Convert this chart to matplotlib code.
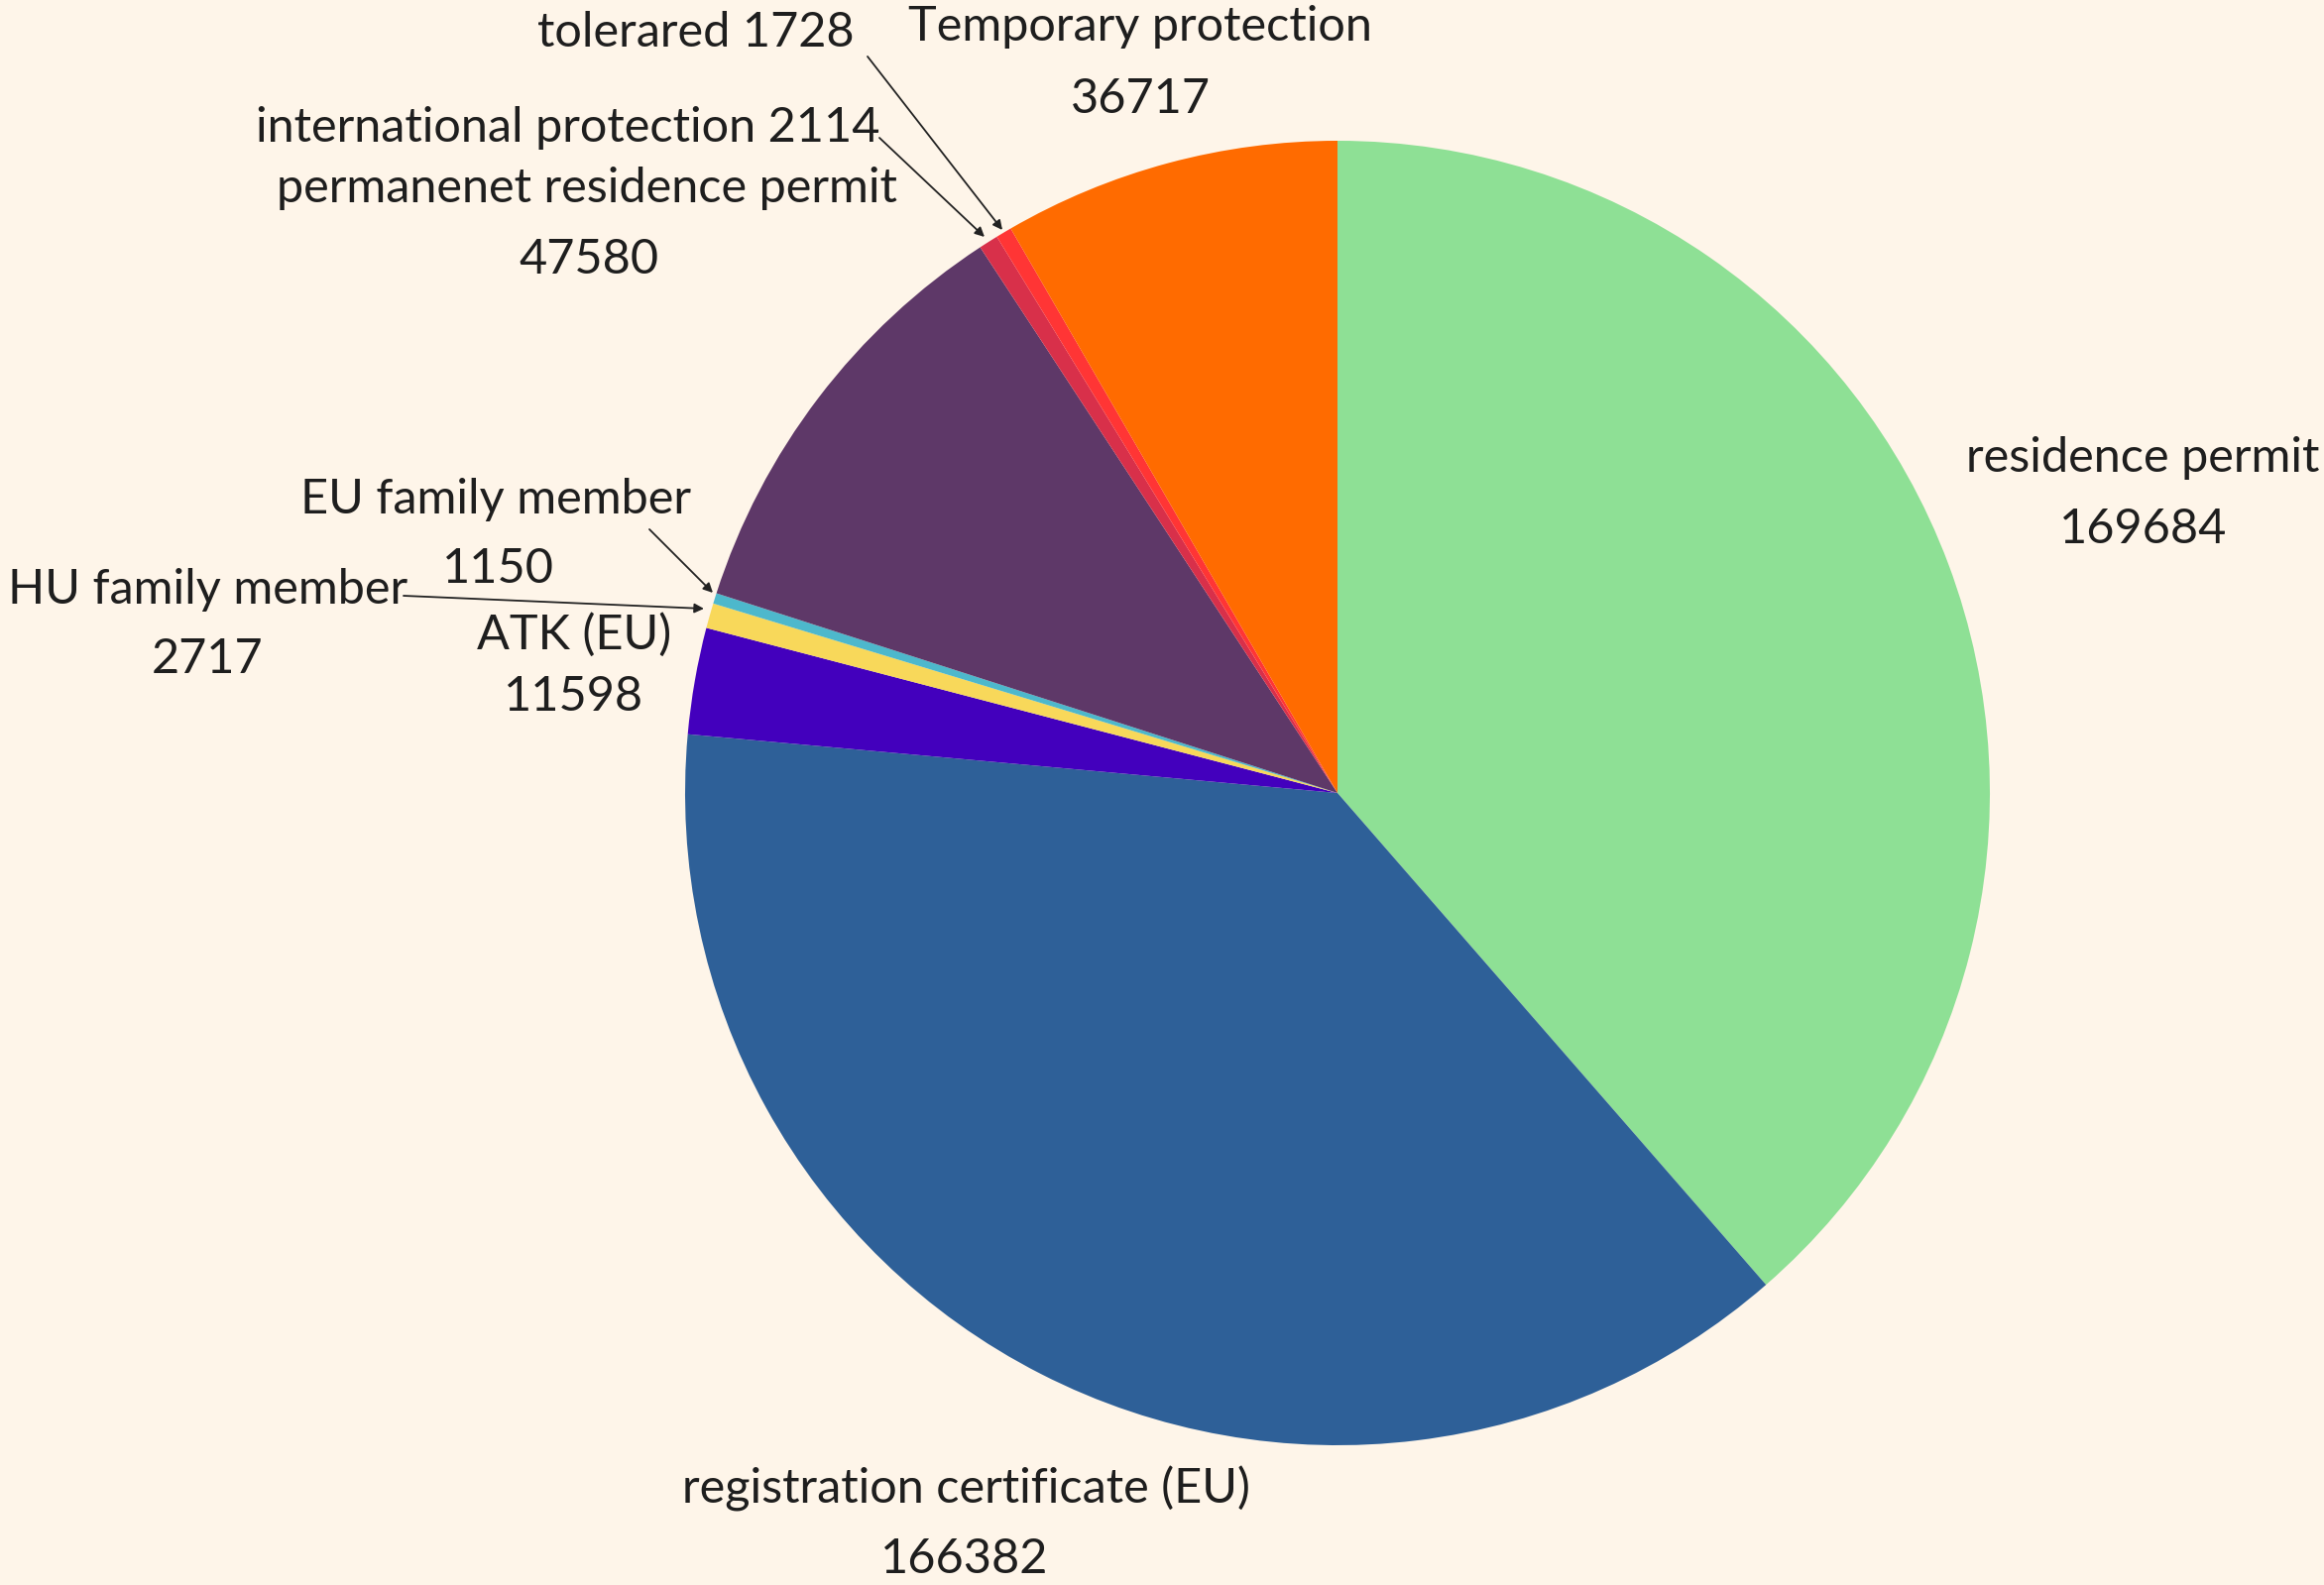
import matplotlib
matplotlib.use("Agg")
from matplotlib import pyplot as plt

# data
labels = ["residence permit", "registration certificate (EU)", "ATK (EU)",
          "HU family member", "EU family member", "permanenet residence permit",
          "international protection", "tolerared", "Temporary protection"]
values = [169684, 166382, 11598, 2717, 1150, 47580, 2114, 1728, 36717]
colors = ["#8EE095", "#2E6098", "#4300BD", "#F8D85A", "#4DB8CC",
          "#5E3868", "#D8304A", "#FF3535", "#FF6B00"]

W, H = 2344, 1599
bg = "#FEF5E9"
plt.rcParams["font.family"] = ["Lato", "DejaVu Sans"]

fig = plt.figure(figsize=(W / 100, H / 100), dpi=100, facecolor=bg)
ax = fig.add_axes([0, 0, 1, 1])

ax.pie(values, colors=colors, startangle=90, counterclock=False,
       center=(1349, H - 800), radius=658, frame=True,
       wedgeprops=dict(linewidth=0))
ax.set_xlim(0, W)
ax.set_ylim(0, H)
ax.set_aspect("equal")
ax.axis("off")

fs = 35
tc = "#1e1e1e"


def txt(x, y, s, ha="center"):
    ax.text(x, H - y, s, ha=ha, va="center", fontsize=fs, color=tc)


def arrow(x0, y0, x1, y1):
    ax.annotate("", xy=(x1, H - y1), xytext=(x0, H - y0),
                arrowprops=dict(arrowstyle="-|>", color="#222222", lw=1.3,
                                mutation_scale=14, shrinkA=0, shrinkB=0))


# labels
txt(2161, 462, labels[0])
txt(2162, 534, str(values[0]))
txt(974, 1502, labels[1])
txt(973, 1573, str(values[1]))
txt(579, 640, labels[2])
txt(579, 703, str(values[2]))
txt(210, 595, labels[3])
txt(209, 665, str(values[3]))
txt(500, 504, labels[4])
txt(502, 574, str(values[4]))
txt(592, 190, labels[5])
txt(594, 262, str(values[5]))
txt(887, 129, labels[6] + " " + str(values[6]), ha="right")
txt(862, 33, labels[7] + " " + str(values[7]), ha="right")
txt(1150, 27, labels[8])
txt(1150, 100, str(values[8]))

# leader lines
arrow(875, 57, 1011, 232)
arrow(887, 139, 993, 239)
arrow(655, 534, 719, 598)
arrow(407, 601, 710, 614)

fig.savefig("out.png", dpi=100, facecolor=bg)
